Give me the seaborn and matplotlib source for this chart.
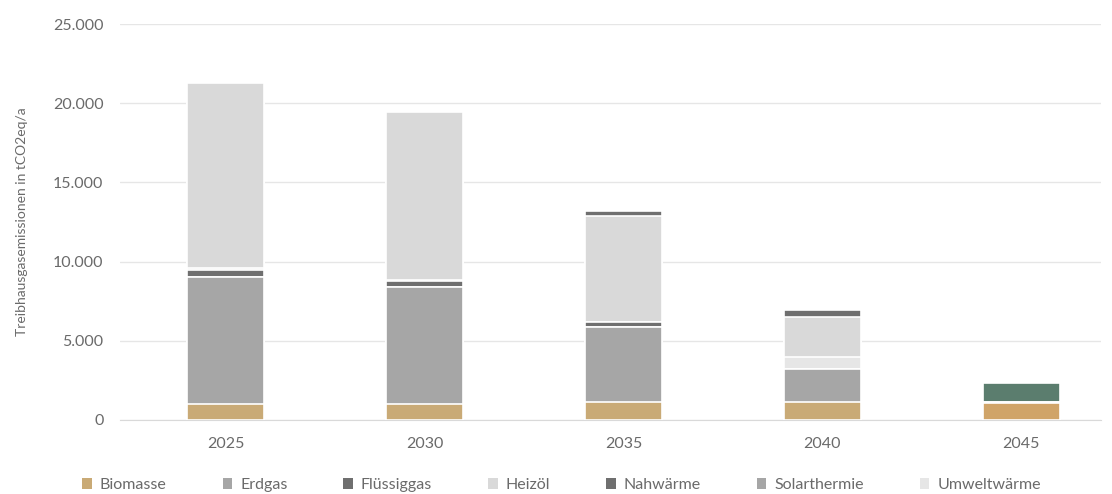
import matplotlib.pyplot as plt
import matplotlib.ticker as mticker
from matplotlib.patches import Patch
import seaborn as sns
import numpy as np
import pandas as pd

years = ['2025', '2030', '2035', '2040', '2045']

biomasse = [1000, 1000, 1100, 1100, 1050]
erdgas = [8000, 7400, 4800, 2100, 0]
fluessiggas = [450, 350, 300, 0, 0]
heizoel = [11700, 10600, 6700, 2500, 0]
nahwaerme = [0, 0, 300, 450, 1200]
solarthermie = [0, 0, 0, 0, 0]
umweltwaerme = [150, 100, 0, 800, 80]

legend_order = ['Biomasse', 'Erdgas', 'Flüssiggas', 'Heizöl', 'Nahwärme', 'Solarthermie', 'Umweltwärme']
colors = {
    'Biomasse': '#c9aa76',
    'Erdgas': '#a6a6a6',
    'Flüssiggas': '#6f6f6f',
    'Heizöl': '#d9d9d9',
    'Nahwärme': '#6f6f6f',
    'Solarthermie': '#a6a6a6',
    'Umweltwärme': '#e6e6e6',
}

series = {
    'Biomasse': biomasse,
    'Erdgas': erdgas,
    'Solarthermie': solarthermie,
    'Umweltwärme': umweltwaerme,
    'Flüssiggas': fluessiggas,
    'Heizöl': heizoel,
    'Nahwärme': nahwaerme,
}
# stack order bottom -> top
stack_order = ['Biomasse', 'Erdgas', 'Solarthermie', 'Flüssiggas', 'Umweltwärme', 'Heizöl', 'Nahwärme']

df = pd.DataFrame({k: series[k] for k in stack_order}, index=years)
cum = df.cumsum(axis=1)

sns.set_style("white")
plt.rcParams['font.family'] = ['Lato', 'DejaVu Sans']

fig = plt.figure(figsize=(11.12, 4.94), dpi=100)
ax = fig.add_axes([0.108, 0.150, 0.882, 0.801])

text_col = '#6a6a6a'

# draw cumulative bars from top layer down so each layer stays visible
for name in reversed(stack_order):
    d = pd.DataFrame({'Jahr': years, 'Wert': cum[name].values})
    sns.barplot(data=d, x='Jahr', y='Wert', color=colors[name], width=0.39,
                saturation=1, edgecolor='white', linewidth=1.2, ax=ax, zorder=3)

# Nahwärme in 2045 is drawn green in the original
rev = list(reversed(stack_order))
ax.patches[rev.index('Nahwärme') * len(years) + 4].set_facecolor('#5b7d6e')
ax.patches[rev.index('Biomasse') * len(years) + 4].set_facecolor('#d0a468')

ax.set_ylim(0, 25000)
ax.set_xlim(-0.53, 4.40)
ax.yaxis.set_major_locator(mticker.MultipleLocator(5000))
ax.yaxis.set_major_formatter(mticker.FuncFormatter(lambda v, p: f'{int(v):,}'.replace(',', '.')))
ax.yaxis.grid(True, color='#e6e6e6', linewidth=1)
ax.set_axisbelow(True)
for s in ['top', 'right', 'left']:
    ax.spines[s].set_visible(False)
ax.spines['bottom'].set_color('#d9d9d9')
ax.tick_params(axis='both', length=0, labelsize=11.5, colors=text_col)
ax.tick_params(axis='y', pad=12)
ax.tick_params(axis='x', pad=12)
ax.set_xlabel('')
ax.set_ylabel('Treibhausgasemissionen in tCO2eq/a', fontsize=10, color=text_col, labelpad=18)

handles = [Patch(facecolor=colors[n], edgecolor='none') for n in legend_order]
fig.legend(handles, legend_order, loc='center', bbox_to_anchor=(0.505, 0.018), ncol=7,
           frameon=False, fontsize=11.5, labelcolor=text_col, handlelength=0.6,
           handleheight=0.6, handletextpad=0.5, columnspacing=3.5)

fig.savefig('out.png', dpi=100)
plt.close(fig)
